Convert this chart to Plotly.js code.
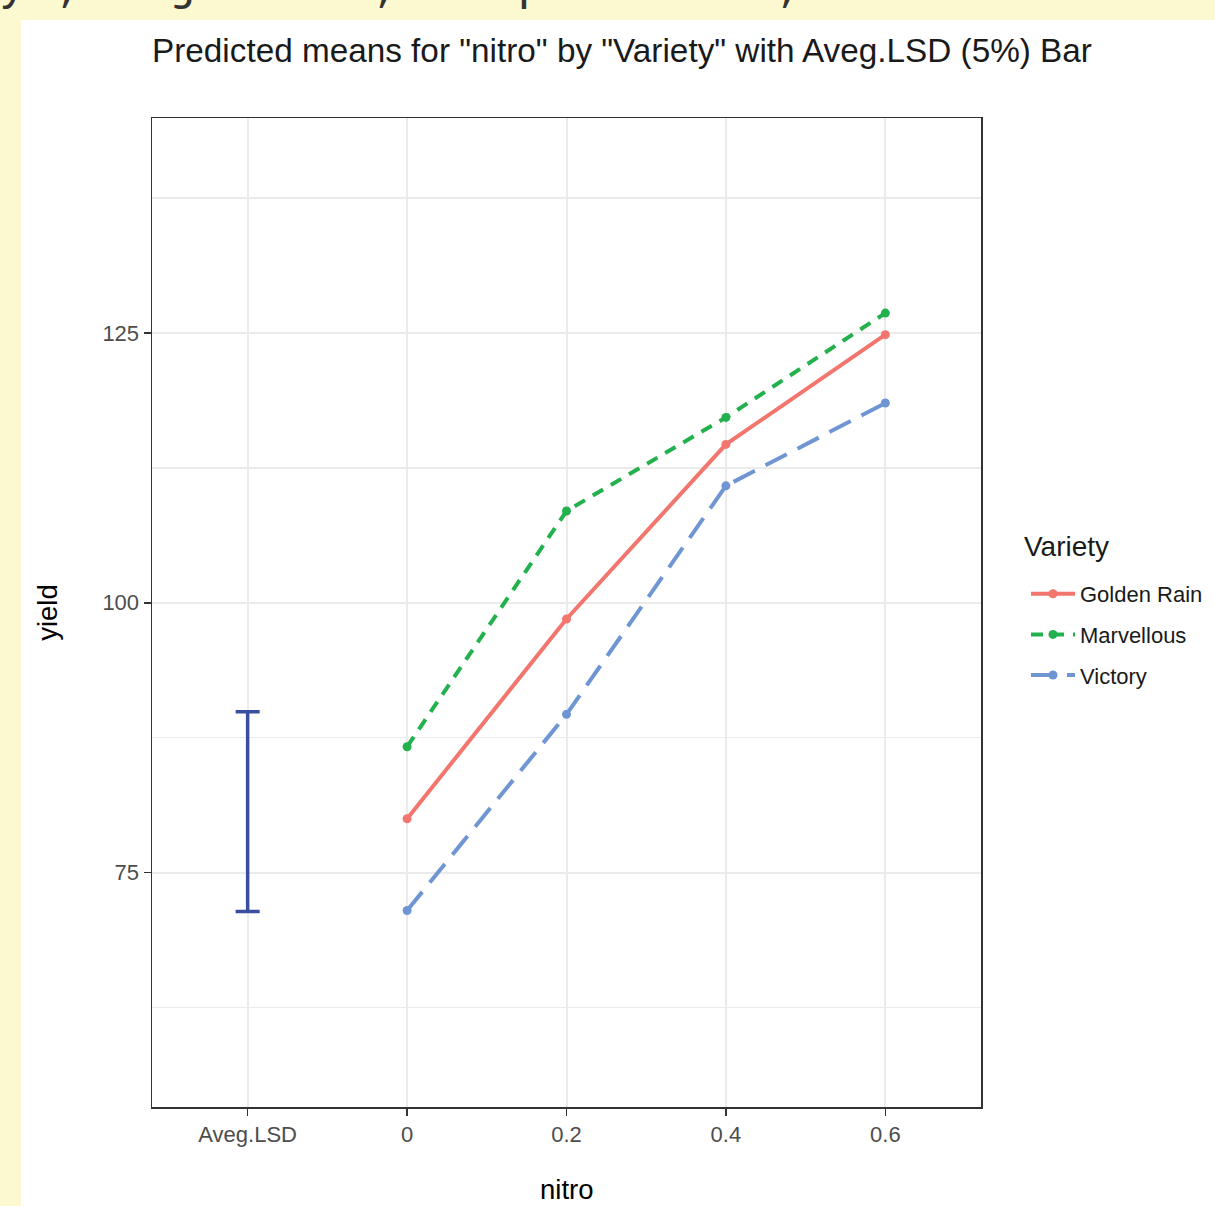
<!DOCTYPE html>
<html>
<head>
<meta charset="utf-8">
<script src="https://cdn.plot.ly/plotly-3.0.1.min.js"></script>
<style>
  html, body { margin: 0; padding: 0; background: #FCF8D0; }
  #chart { width: 1215px; height: 1206px; }
</style>
</head>
<body>
<div id="chart"></div>
<script>
// ---- data ----
const nitroLevels = ['0', '0.2', '0.4', '0.6'];
const xCategories = ['Aveg.LSD', '0', '0.2', '0.4', '0.6'];
const varieties = ['Golden Rain', 'Marvellous', 'Victory'];
const goldenRain = [80.0, 98.5, 114.67, 124.83];
const marvellous = [86.67, 108.5, 117.17, 126.83];
const victory = [71.5, 89.67, 110.83, 118.5];
const lsdLow = 71.4;
const lsdHigh = 89.9;
const titleText = 'Predicted means for "nitro" by "Variety" with Aveg.LSD (5%) Bar';
const xTitle = 'nitro';
const yTitle = 'yield';
const legendTitle = 'Variety';
const codeText = 'y", adj= "BH", barplot=TRUE,';

// ---- geometry (pixels) ----
const W = 1215, H = 1206;
const L = 152, R = 981, T = 118, B = 1107;
const pw = R - L, ph = B - T;
const px = v => (v - L) / pw;
const py = v => (B - v) / ph;

const colors = ['#F3766E', '#22B14C', '#6F96D3'];
const dashes = ['solid', '12px,9px', '24px,12px'];
const series = [goldenRain, marvellous, victory];

const traces = series.map((ys, i) => ({
  type: 'scatter',
  mode: 'lines+markers',
  name: varieties[i],
  legendgroup: 'g' + i,
  x: nitroLevels,
  y: ys,
  line: { color: colors[i], width: 4, dash: dashes[i] },
  marker: { color: colors[i], size: 9 },
  hoverinfo: 'x+y+name'
}));

const lsdMid = (lsdLow + lsdHigh) / 2;
traces.unshift({
  type: 'scatter',
  mode: 'lines',
  x: ['Aveg.LSD'],
  y: [lsdMid],
  showlegend: false,
  line: { color: '#3A4DA0', width: 0 },
  error_y: {
    type: 'data', symmetric: false,
    array: [lsdHigh - lsdMid], arrayminus: [lsdMid - lsdLow],
    color: '#3A4DA0', thickness: 3.5, width: 12
  },
  hoverinfo: 'skip'
});

const fontFam = '"Liberation Sans", Arial, Helvetica, sans-serif';

const layout = {
  width: W, height: H,
  margin: { l: L, r: W - R, t: T, b: H - B, pad: 0, autoexpand: false },
  paper_bgcolor: '#FCF8D0',
  plot_bgcolor: '#FFFFFF',
  font: { family: fontFam, color: '#1A1A1A' },
  title: {
    text: titleText,
    font: { size: 33.3, color: '#1A1A1A', family: fontFam },
    xref: 'paper', x: 0, xanchor: 'left',
    yref: 'container', y: 1 - 50 / H, yanchor: 'middle'
  },
  xaxis: {
    type: 'category',
    categoryorder: 'array',
    categoryarray: xCategories,
    range: [-0.6, 4.6],
    automargin: false,
    showgrid: true, gridcolor: '#EBEBEB', gridwidth: 2,
    zeroline: false,
    showline: true, mirror: true, linecolor: '#333333', linewidth: 1.5,
    ticks: 'outside', ticklen: 7, tickwidth: 1.5, tickcolor: '#333333',
    tickfont: { size: 22, color: '#4D4D4D', family: fontFam }
  },
  yaxis: {
    range: [53.3, 144.9],
    tick0: 0, dtick: 25,
    automargin: false,
    showgrid: true, gridcolor: '#EBEBEB', gridwidth: 2,
    minor: { dtick: 12.5, tick0: 0, showgrid: true, gridcolor: '#EBEBEB', gridwidth: 1.5 },
    zeroline: false,
    showline: true, mirror: true, linecolor: '#333333', linewidth: 1.5,
    ticks: 'outside', ticklen: 7, tickwidth: 1.5, tickcolor: '#333333',
    tickfont: { size: 22, color: '#4D4D4D', family: fontFam },
    title: { text: yTitle, font: { size: 27.5, color: '#000000', family: fontFam }, standoff: 37 }
  },
  legend: {
    xref: 'container', yref: 'container',
    x: 1022 / W, xanchor: 'left',
    y: 1 - 573 / H, yanchor: 'top',
    bgcolor: 'rgba(0,0,0,0)',
    font: { size: 22, color: '#1A1A1A', family: fontFam },
    traceorder: 'grouped',
    tracegroupgap: 9,
    itemwidth: 44,
    indentation: 4
  },
  shapes: [{
    type: 'rect', xref: 'paper', yref: 'paper', layer: 'below',
    x0: px(21), x1: px(W + 5), y0: py(H + 5), y1: py(20),
    fillcolor: '#FFFFFF', line: { width: 0 }
  }],
  annotations: [
    {
      xref: 'paper', yref: 'paper',
      x: px(1022), xanchor: 'left',
      y: py(546), yanchor: 'middle',
      text: legendTitle, showarrow: false,
      font: { size: 28, color: '#1A1A1A', family: fontFam }
    },
    {
      xref: 'paper', yref: 'paper',
      x: 0.5, xanchor: 'center',
      y: py(1206), yanchor: 'bottom',
      borderpad: 0,
      text: xTitle, showarrow: false,
      font: { size: 27.5, color: '#000000', family: fontFam }
    },
    {
      xref: 'paper', yref: 'paper',
      x: px(-3), xanchor: 'left',
      y: py(15), yanchor: 'bottom',
      text: codeText, showarrow: false,
      font: { family: '"Liberation Mono", "DejaVu Sans Mono", monospace', size: 48, color: '#333333' }
    }
  ]
};

Plotly.newPlot('chart', traces, layout, { displayModeBar: false, staticPlot: true });
</script>
</body>
</html>
